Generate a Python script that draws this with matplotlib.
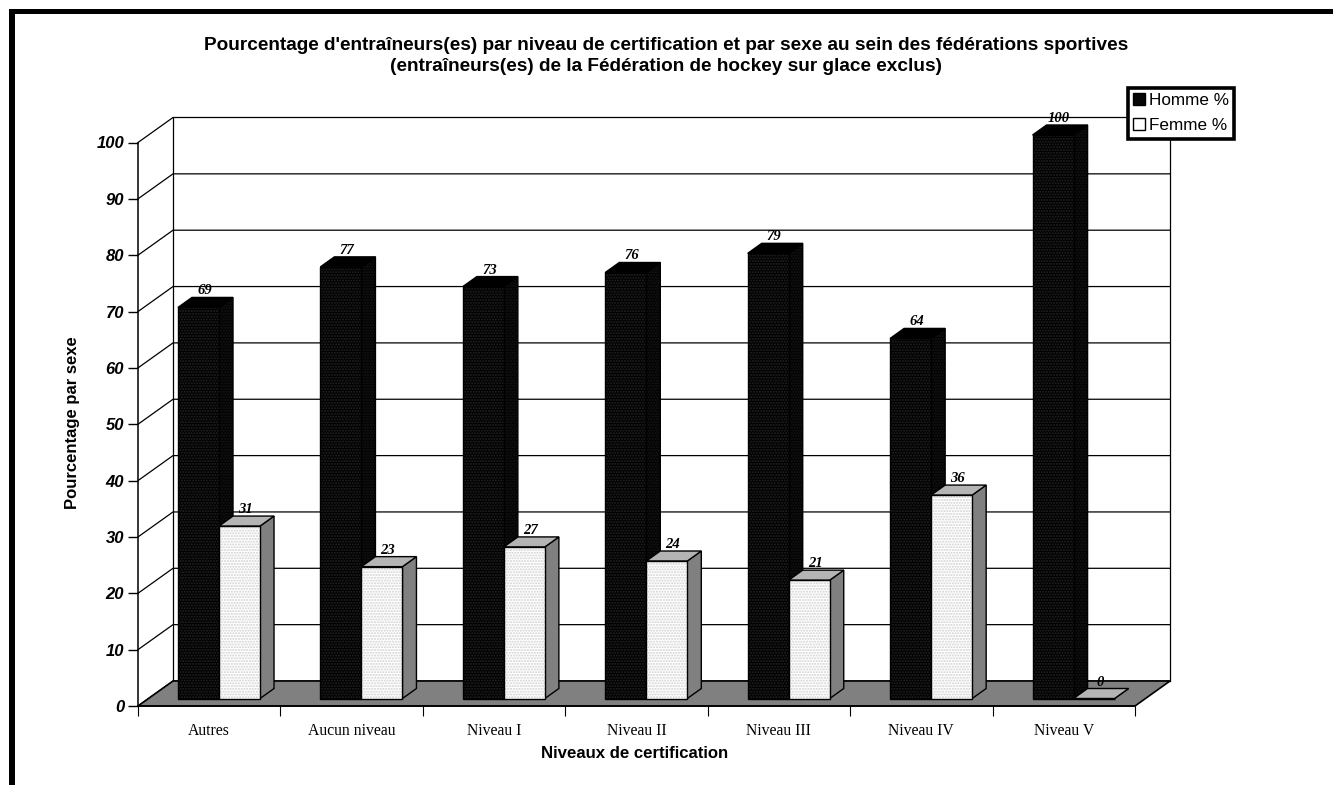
import matplotlib
matplotlib.use("Agg")
import matplotlib.pyplot as plt
from matplotlib.patches import Patch, Polygon, Rectangle

categories = ["Autres", "Aucun niveau", "Niveau I", "Niveau II", "Niveau III", "Niveau IV", "Niveau V"]
homme = [69.4, 76.6, 73.1, 75.6, 79.0, 63.9, 100.0]
femme = [30.6, 23.4, 26.9, 24.4, 21.0, 36.1, 0.0]
y_ticks = list(range(0, 101, 10))

W, H = 1333, 785
SANS = "Liberation Sans"
SERIF = "Liberation Serif"

# profondeur du pseudo-3D, en unites de donnees
DX = 35 / 142.4
DY = 25 / 5.635
BAR_W = 0.288
BAR_X0 = 0.207
Z_FRONT = 0.3
Z_BACK = 0.7


def project(x, y, z):
    return x + z * DX, y + z * DY


fig = plt.figure(figsize=(W / 100, H / 100), dpi=100, facecolor="white")
ax = fig.add_axes([138 / W, (H - 706) / H, 997 / W, 563.5 / H])
ax.set_xlim(0, len(categories))
ax.set_ylim(0, 100)
ax.patch.set_visible(False)
for side in ("top", "right"):
    ax.spines[side].set_visible(False)
for side in ("left", "bottom"):
    ax.spines[side].set_linewidth(1.1)
    ax.spines[side].set_zorder(3)

n = len(categories)

# grille : mur du fond et paroi gauche
for v in y_ticks:
    xs, ys = zip(project(0, v, 0), project(0, v, 1), project(n, v, 1))
    ax.plot(xs, ys, color="black", lw=0.9, clip_on=False, zorder=1)
ax.plot(*zip(project(0, 0, 1), project(0, 100, 1)), color="black", lw=0.9, clip_on=False, zorder=1)
ax.plot(*zip(project(n, 0, 1), project(n, 100, 1)), color="black", lw=0.9, clip_on=False, zorder=1)

# sol
ax.add_patch(Polygon([project(0, 0, 0), project(n, 0, 0), project(n, 0, 1), project(0, 0, 1)],
                     closed=True, facecolor="#808080", edgecolor="black", lw=1.2,
                     clip_on=False, zorder=2))


def draw_bar(x, h, front, hatch_col, top, side, side_hatch, side_hatch_col, z):
    base = Z_FRONT * DY
    x0 = x + Z_FRONT * DX
    # le hachage prend la couleur du bord : contour noir dessine a part
    ax.bar(x0, h, BAR_W, bottom=base, align="edge", facecolor=front, edgecolor=hatch_col,
           hatch="......", lw=0, clip_on=False, zorder=z + 1)
    ax.bar(x0, h, BAR_W, bottom=base, align="edge", fill=False, edgecolor="black",
           lw=1.0, clip_on=False, zorder=z + 1)
    d = Z_BACK - Z_FRONT
    y1 = base + h
    side_pts = [(x0 + BAR_W, base), (x0 + BAR_W, y1),
                (x0 + BAR_W + d * DX, y1 + d * DY), (x0 + BAR_W + d * DX, base + d * DY)]
    ax.add_patch(Polygon(side_pts, closed=True, facecolor=side, edgecolor=side_hatch_col, hatch=side_hatch,
                         lw=0, clip_on=False, zorder=z))
    ax.add_patch(Polygon(side_pts, closed=True, fill=False, edgecolor="black", lw=1.0,
                         clip_on=False, zorder=z))
    ax.add_patch(Polygon([(x0, y1), (x0 + BAR_W, y1),
                          (x0 + BAR_W + d * DX, y1 + d * DY), (x0 + d * DX, y1 + d * DY)],
                         closed=True, facecolor=top, edgecolor="black", lw=1.0,
                         clip_on=False, zorder=z))
    # etiquette de valeur
    lx = x + BAR_W / 2 + 0.47 * DX
    ly = y1 + d * DY
    ax.annotate(f"{h:.0f}", (lx, ly), xytext=(0, 0), textcoords="offset points",
                ha="center", va="bottom", family=SERIF, style="italic", weight="bold",
                fontsize=10.5, color="black", zorder=30, annotation_clip=False)


for i in range(n):
    draw_bar(i + BAR_X0, homme[i], "#000000", "#242424", "#000000", "#030303", "......", "#161616", 5 + 2 * i)
    draw_bar(i + BAR_X0 + BAR_W, femme[i], "#ffffff", "#d0d0d0", "#b4b4b4", "#808080", None, "#808080", 6 + 2 * i)

# axes
ax.set_yticks(y_ticks)
ax.set_yticklabels([str(v) for v in y_ticks], family=SANS, weight="bold", style="italic", fontsize=12)
ax.tick_params(axis="y", length=7, width=1.0, pad=3)
ax.set_xticks(range(n + 1))
ax.set_xticklabels([])
ax.set_xticks([i + 0.5 for i in range(n)], minor=True)
ax.set_xticklabels(categories, minor=True, family=SERIF, fontsize=11.3)
ax.tick_params(axis="x", which="major", length=7, width=0.8)
ax.tick_params(axis="x", which="minor", length=0, pad=12.5)

ax.set_xlabel("Niveaux de certification", family=SANS, weight="bold", fontsize=12.1)
ax.xaxis.set_label_coords(0.4985, -0.071)
ax.set_ylabel("Pourcentage par sexe", family=SANS, weight="bold", fontsize=12)
ax.yaxis.set_label_coords(-0.0585, 0.5025)

fig.suptitle("Pourcentage d'entraîneurs(es) par niveau de certification et par sexe au sein des fédérations sportives\n"
             "(entraîneurs(es) de la Fédération de hockey sur glace exclus)",
             x=666.5 / W, y=1 - 37 / H, va="top", family=SANS, weight="bold", fontsize=13.7, linespacing=1.3)

# legende
handles = [Patch(facecolor="#060606", edgecolor="black", label="Homme %"),
           Patch(facecolor="#ffffff", edgecolor="black", label="Femme %")]
leg = ax.legend(handles=handles, loc="upper left", bbox_to_anchor=(1128 / W, 1 - 87.5 / H),
                bbox_transform=fig.transFigure, borderaxespad=0, fancybox=False, framealpha=1,
                edgecolor="black", prop={"family": SANS, "size": 12.3}, handlelength=0.65,
                handleheight=0.7, handletextpad=0.25, labelspacing=0.6, borderpad=0.32)
leg.get_frame().set_linewidth(2.6)
leg.set_zorder(50)

# cadre noir (haut et gauche seulement)
fig.add_artist(Rectangle((9 / W, 0), 6 / W, 1 - 9 / H, transform=fig.transFigure, color="black", lw=0))
fig.add_artist(Rectangle((9 / W, 1 - 14 / H), 1 - 9 / W, 5 / H, transform=fig.transFigure, color="black", lw=0))

fig.savefig("out.png", dpi=100)
